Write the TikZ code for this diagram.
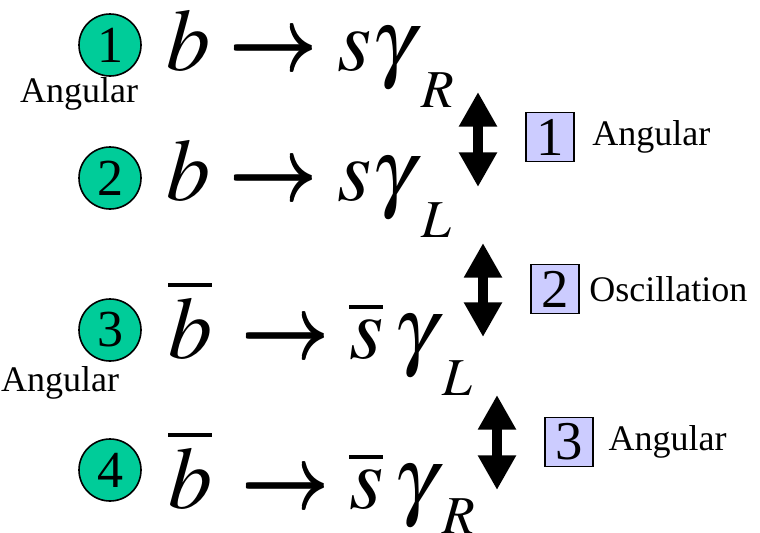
\documentclass[tikz,border=0pt]{standalone}
\usepackage{mathptmx}
\usepackage[no-math]{fontspec}
\setmainfont{Liberation Serif}
\usepackage{tikz}
\usetikzlibrary{arrows.meta,positioning}
\definecolor{circgreen}{RGB}{0,204,153}
\definecolor{boxblue}{RGB}{204,204,255}
\DeclareMathSizes{66}{66}{40}{30}
\newcommand{\chsub}[2][-18pt]{_{\raisebox{#1}{\kern10pt$\scriptstyle #2$}}}
\newcommand{\tto}{\mathrel{\mbox{\rlap{\raisebox{1.1pt}{$\rightarrow$}}\rlap{\raisebox{-1.1pt}{$\rightarrow$}}$\rightarrow$}}}

\begin{document}
\begin{tikzpicture}[x=0.75pt, y=-0.75pt,
    num/.style={circle, draw, line width=1.2pt, fill=circgreen, minimum size=46.5pt, inner sep=0pt, font=\fontsize{39}{40}\selectfont},
    tag/.style={rectangle, draw, line width=1.2pt, fill=boxblue, minimum width=36pt, minimum height=36.75pt, inner sep=0pt, font=\fontsize{41}{42}\selectfont},
    eqn/.style={anchor=base west, inner sep=0pt, font=\fontsize{66}{70}\selectfont},
    lbl/.style={inner sep=0pt, font=\fontsize{27}{30}\selectfont},
    dbl/.style={line width=7.5pt, {Triangle[length=26pt,width=27pt]}-{Triangle[length=26pt,width=27pt]}}]
    \useasboundingbox (0,0) rectangle (760,532);

    % decays
    \node[eqn] (d1) at (166,70) {\(b\tto s\gamma\chsub{R}\)};
    \node[eqn] (d2) at (166,200) {\(b\tto s\gamma\chsub{L}\)};
    \node[eqn] (d3) at (168,358) {\(\overline{b}\,\tto\overline{s}\,\gamma\chsub{L}\)};
    \node[eqn] (d4) at (168,508) {\(\overline{b}\,\tto\overline{s}\,\gamma\chsub[-9pt]{R}\)};

    \node[num] (c1) at (110,45) {1};
    \node[num] (c2) at (110,178) {2};
    \node[num] (c3) at (110,330) {3};
    \node[num] (c4) at (110,470) {4};
    \node[lbl, anchor=base] (a1) at (79,102) {Angular};
    \node[lbl, anchor=base] (a3) at (60,391) {Angular};

    % links between the decays
    \coordinate (u1) at (478,92);  \coordinate (v1) at (478,187);
    \coordinate (u2) at (483,243); \coordinate (v2) at (483,337);
    \coordinate (u3) at (497,395); \coordinate (v3) at (497,490);
    \draw[dbl] (u1) -- (v1);
    \draw[dbl] (u2) -- (v2);
    \draw[dbl] (u3) -- (v3);

    \node[tag] (t1) at (550,137) {1};
    \node[tag] (t2) at (555,289) {2};
    \node[tag] (t3) at (569,442) {3};
    \node[lbl, right=13pt of t1] (m1) {Angular};
    \node[lbl, right=7pt of t2] (m2) {Oscillation};
    \node[lbl, right=11pt of t3] (m3) {Angular};
\end{tikzpicture}
\end{document}
